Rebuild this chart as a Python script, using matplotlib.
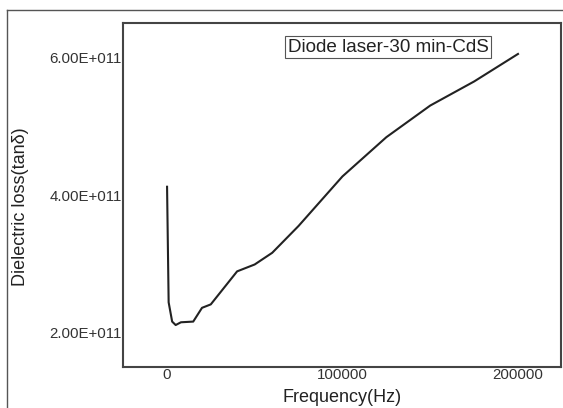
import matplotlib.pyplot as plt
from matplotlib.lines import Line2D

plt.rcParams['font.family'] = ['Liberation Sans', 'DejaVu Sans']

freq = [100, 1000, 3000, 5000, 8000, 15000, 20000, 25000, 40000, 50000,
        60000, 75000, 100000, 125000, 150000, 175000, 200000]
loss = [4.12e11, 2.44e11, 2.16e11, 2.11e11, 2.15e11, 2.16e11, 2.36e11, 2.41e11,
        2.89e11, 2.99e11, 3.16e11, 3.55e11, 4.27e11, 4.84e11, 5.30e11, 5.65e11,
        6.05e11]

xticks = [0, 100000, 200000]
yticks = [2e11, 4e11, 6e11]
ytick_labels = ['2.00E+011', '4.00E+011', '6.00E+011']

fig = plt.figure(figsize=(5.63, 4.08), dpi=100)
ax = fig.add_axes([123 / 563, 1 - 367 / 408, (561 - 123) / 563, (367 - 23) / 408])

ax.plot(freq, loss, color='#222222', lw=1.5)

ax.set_xlim(-25000, 224500)
ax.set_ylim(1.5e11, 6.5e11)
ax.set_xticks(xticks)
ax.set_xticklabels([str(t) for t in xticks])
ax.set_yticks(yticks)
ax.set_yticklabels(ytick_labels)
ax.tick_params(length=0, pad=1, labelsize=10.8, labelcolor='#333333')

for s in ax.spines.values():
    s.set_color('#444444')
    s.set_linewidth(1.5)

ax.set_xlabel('Frequency(Hz)', fontsize=13, color='#222222')
ax.set_ylabel('Dielectric loss(tan\u03b4)', fontsize=13, color='#222222')
ax.xaxis.set_label_coords(0.5, -0.065, transform=ax.transAxes)
ax.xaxis.label.set_va('top')
ax.yaxis.set_label_coords(-0.215, 0.467)

ax.text(0.605, 0.93, 'Diode laser-30 min-CdS', transform=ax.transAxes,
        ha='center', va='center', fontsize=13.6, color='#222222',
        bbox=dict(boxstyle='square,pad=0.12', fc='white', ec='#555555', lw=0.8))

# outer frame lines (left and top)
fig.add_artist(Line2D([7 / 563, 7 / 563], [0, 1 - 10 / 408], color='#555555', lw=1))
fig.add_artist(Line2D([7 / 563, 1], [1 - 10 / 408, 1 - 10 / 408], color='#555555', lw=1))

fig.savefig('out.png', dpi=100)
